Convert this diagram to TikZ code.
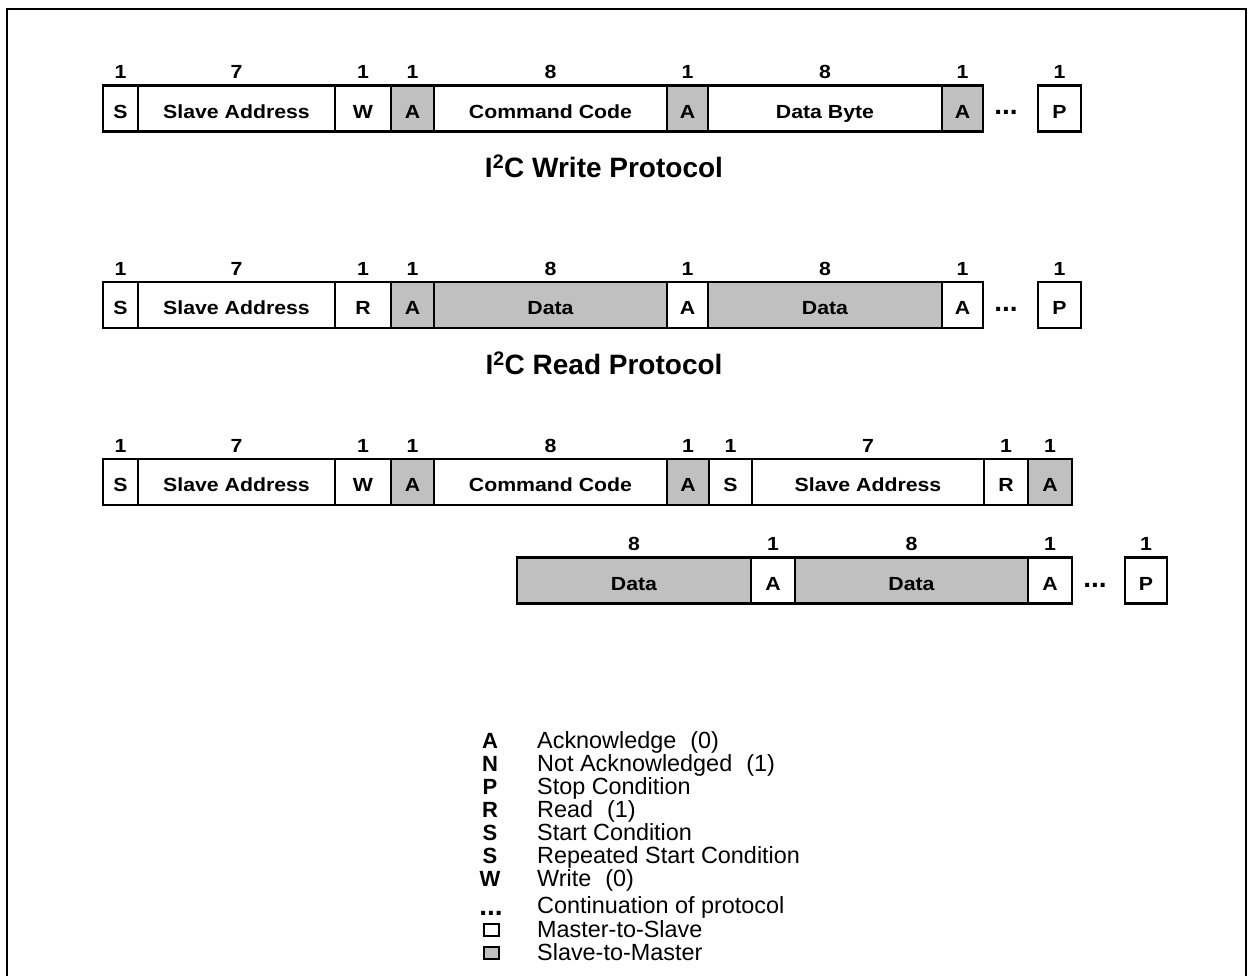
\documentclass[tikz,border=0pt]{standalone}
\usepackage{fontspec}
\setmainfont{Liberation Sans}
\newfontfamily\boxfont{Liberation Sans}[FakeStretch=1.12]
\definecolor{slavegray}{RGB}{192,192,192}
\tikzset{
  bx/.style={draw, line width=2.2pt, inner sep=0pt, outer sep=0pt, minimum height=46pt,
             text height=19.7pt, text depth=0pt,
             font=\boxfont\fontsize{19}{22}\selectfont\bfseries},
  ms/.style={bx, fill=white},
  sm/.style={bx, fill=slavegray},
  bits/.style={font=\boxfont\fontsize{19}{22}\selectfont\bfseries, inner sep=0pt,
               text height=13.7pt, text depth=0pt},
  contdots/.style={font=\fontsize{28}{30}\selectfont\bfseries, inner sep=0pt, anchor=base},
  ttl/.style={font=\fontsize{28}{32}\selectfont\bfseries, inner sep=0pt},
  lgkey/.style={font=\fontsize{22}{24}\selectfont\bfseries, inner sep=0pt, anchor=base},
  lgtxt/.style={font=\fontsize{23.4}{26}\selectfont, anchor=base west, inner sep=0pt},
  lgicon/.style={draw, line width=2pt, minimum width=15pt, minimum height=12pt, inner sep=0pt},
  frame/.style={line width=2.5pt},
}
\newcommand\fieldbox[7]{%
  \pgfmathsetmacro\fbw{#4-#3}%
  \pgfmathsetmacro\fbc{(#3+#4)/2}%
  \pgfmathsetmacro\fby{#5-36.5}%
  \node[#1, minimum width=\fbw pt] (#2) at (\fbc,#5) {#6};
  \node[bits] (#2n) at (\fbc,\fby) {#7};
}
\begin{document}
\begin{tikzpicture}[x=1pt,y=-1pt]
\useasboundingbox (0,0) rectangle (1250,976);
\draw[frame] (7,976) -- (7,9) -- (1246,9) -- (1246,976);

% Row 1: write
\fieldbox{ms}{aS}{103}{138}{108.5}{S}{1}
\fieldbox{ms}{aSA}{138}{335}{108.5}{Slave Address}{7}
\fieldbox{ms}{aW}{335}{391}{108.5}{W}{1}
\fieldbox{sm}{aA1}{391}{434}{108.5}{A}{1}
\fieldbox{ms}{aCC}{434}{667}{108.5}{Command Code}{8}
\fieldbox{sm}{aA2}{667}{708}{108.5}{A}{1}
\fieldbox{ms}{aDB}{708}{942}{108.5}{Data Byte}{8}
\fieldbox{sm}{aA3}{942}{983}{108.5}{A}{1}
\node[contdots] (adots) at (1006,115) {...};
\fieldbox{ms}{aP}{1038}{1081}{108.5}{P}{1}
\node[ttl] (t1) at (604,166) {I\textsuperscript{2}C Write Protocol};

% Row 2: read
\fieldbox{ms}{bS}{103}{138}{305}{S}{1}
\fieldbox{ms}{bSA}{138}{335}{305}{Slave Address}{7}
\fieldbox{ms}{bR}{335}{391}{305}{R}{1}
\fieldbox{sm}{bA1}{391}{434}{305}{A}{1}
\fieldbox{sm}{bD1}{434}{667}{305}{Data}{8}
\fieldbox{ms}{bA2}{667}{708}{305}{A}{1}
\fieldbox{sm}{bD2}{708}{942}{305}{Data}{8}
\fieldbox{ms}{bA3}{942}{983}{305}{A}{1}
\node[contdots] (bdots) at (1006,311.5) {...};
\fieldbox{ms}{bP}{1038}{1081}{305}{P}{1}
\node[ttl] (t2) at (604,363) {I\textsuperscript{2}C Read Protocol};

% Row 3: combined
\fieldbox{ms}{cS}{103}{138}{482}{S}{1}
\fieldbox{ms}{cSA}{138}{335}{482}{Slave Address}{7}
\fieldbox{ms}{cW}{335}{391}{482}{W}{1}
\fieldbox{sm}{cA1}{391}{434}{482}{A}{1}
\fieldbox{ms}{cCC}{434}{667}{482}{Command Code}{8}
\fieldbox{sm}{cA2}{667}{709}{482}{A}{1}
\fieldbox{ms}{cS2}{709}{752}{482}{S}{1}
\fieldbox{ms}{cSA2}{752}{984}{482}{Slave Address}{7}
\fieldbox{ms}{cR}{984}{1028}{482}{R}{1}
\fieldbox{sm}{cA3}{1028}{1072}{482}{A}{1}

% Row 4
\fieldbox{sm}{dD1}{517}{751}{580.5}{Data}{8}
\fieldbox{ms}{dA1}{751}{795}{580.5}{A}{1}
\fieldbox{sm}{dD2}{795}{1028}{580.5}{Data}{8}
\fieldbox{ms}{dA2}{1028}{1072}{580.5}{A}{1}
\node[contdots] (ddots) at (1095,587) {...};
\fieldbox{ms}{dP}{1125}{1167}{580.5}{P}{1}

% Legend (baselines)
\node[lgkey] (kA) at (490,748) {A};
\node[lgtxt] (tA) at (537,748) {Acknowledge\hspace{0.6em}(0)};
\node[lgkey] (kN) at (490,771) {N};
\node[lgtxt] (tN) at (537,771) {Not Acknowledged\hspace{0.6em}(1)};
\node[lgkey] (kP) at (490,794) {P};
\node[lgtxt] (tP) at (537,794) {Stop Condition};
\node[lgkey] (kR) at (490,817) {R};
\node[lgtxt] (tR) at (537,817) {Read\hspace{0.6em}(1)};
\node[lgkey] (kS) at (490,840) {S};
\node[lgtxt] (tS) at (537,840) {Start Condition};
\node[lgkey] (kSr) at (490,863) {S};
\node[lgtxt] (tSr) at (537,863) {Repeated Start Condition};
\node[lgkey] (kW) at (490,886) {W};
\node[lgtxt] (tW) at (537,886) {Write\hspace{0.6em}(0)};
\node[contdots] (kdots) at (491,915) {...};
\node[lgtxt] (tdots) at (537,913) {Continuation of protocol};
\node[lgicon, fill=white] (kms) at (491,930) {};
\node[lgtxt] (tms) at (537,937) {Master-to-Slave};
\node[lgicon, fill=slavegray] (ksm) at (491,953) {};
\node[lgtxt] (tsm) at (537,960) {Slave-to-Master};
\end{tikzpicture}
\end{document}
